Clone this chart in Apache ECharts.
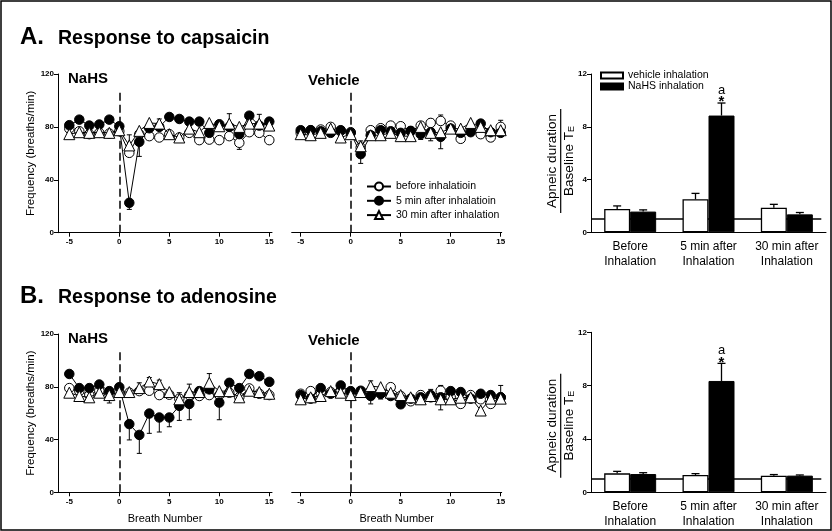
<!DOCTYPE html>
<html>
<head>
    <meta charset="utf-8">
    <title>Response to capsaicin / adenosine</title>
    <script src="https://cdn.jsdelivr.net/npm/echarts@6/dist/echarts.min.js"></script>
    <style>
        html, body { margin: 0; padding: 0; background: #fff; }
        #chart { width: 832px; height: 531px; }
    </style>
</head>
<body>
<div id="chart"></div>
<script type="text/javascript">
    // breath numbers (x values of every line plot)
    var breaths = [-5, -4, -3, -2, -1, 0, 1, 2, 3, 4, 5, 6, 7, 8, 9, 10, 11, 12, 13, 14, 15];
    var breathTicks = [-5, 0, 5, 10, 15];
    var lineNames = ['before inhalatioin', '5 min after inhalatioin', '30 min after inhalation'];

    // A. capsaicin, NaHS
    var aNaBefore = [78.7, 76.7, 74.5, 75.5, 75, 76.7, 60.4, 74.5, 73, 72, 74.5, 72, 75.5, 70, 70.4, 70, 73, 68, 76, 75.5, 70];
    var aNaBeforeErr = [0, 0, 0, 0, 0, 0, 0, 0, 0, 0, 0, 0, 0, 0, 0, 0, 0, -5, 0, 0, 0];
    var aNaFive = [81.3, 85.5, 81, 81.8, 85.5, 80.5, 22.6, 68.7, 79, 80, 87.5, 86, 84, 84, 75.5, 82, 80, 74.5, 88.5, 81, 84];
    var aNaFiveErr = [0, 0, 0, 0, 0, 0, -5, -11, 0, 0, 0, 0, 0, 0, 0, 0, 0, 0, 0, 0, 0];
    var aNaThirty = [74.5, 76, 75.5, 76, 75.5, 77.5, 66, 77, 83, 82.5, 74.5, 72, 78.7, 76, 83, 80.5, 82.5, 80, 82.5, 82.5, 81];
    var aNaThirtyErr = [0, 0, 0, 0, 0, 0, 8, 0, 0, 3.5, 0, 0, 0, 0, 0, 0, 7.5, 0, 0, 7, 0];

    // A. capsaicin, vehicle
    var aVeBefore = [75.5, 77.5, 78, 80, 77, 76, 64.4, 77.5, 79, 81, 80.5, 76.7, 81, 83, 84.5, 81, 71, 77.5, 74.5, 72, 80];
    var aVeBeforeErr = [0, 0, 0, 0, 0, 0, 0, 0, 0, 0, 0, 0, 3, 3, 4.5, 2, 0, 0, 0, -3, 5];
    var aVeFive = [77.5, 77.5, 76.7, 75.5, 77.5, 75.5, 59.4, 73.7, 77.5, 76.7, 75.5, 77, 74.5, 76, 72.5, 78.7, 75.5, 76, 82.5, 76, 75.5];
    var aVeFiveErr = [0, 0, 0, 0, 0, 0, -7, 0, 0, 0, 0, 0, -4, 0, -9, 0, 0, 0, 0, 0, 0];
    var aVeThirty = [74.5, 73.7, 75.5, 78.7, 72, 74.5, 65.4, 73.7, 73.7, 75.5, 73, 73, 80, 75.5, 76, 78.7, 78.7, 83, 80, 77.5, 77.5];
    var aVeThirtyErr = [0, 0, 0, 0, 0, 0, 4, 0, 0, 0, 0, 0, 0, -6, 0, 0, 0, 0, 0, 0, 0];

    // B. adenosine, NaHS
    var bNaBefore = [79, 76.7, 73.7, 77, 74.7, 75.5, 75.5, 76.7, 77, 73.7, 74, 71, 73.7, 73, 73.7, 73.7, 75.5, 72, 78.7, 74.7, 73.7];
    var bNaBeforeErr = [0, 0, 0, 0, -7, 0, 0, 0, 0, 0, 0, 0, 0, 0, 0, 0, 0, 0, 0, 0, 0];
    var bNaFive = [89.7, 79, 79, 81.7, 76.7, 79.7, 51.7, 43.5, 59.7, 56.7, 56.7, 65.5, 67, 76.7, 78, 68, 83, 79, 89.7, 88, 83.7];
    var bNaFiveErr = [0, 0, 0, 0, 0, 0, -12, -14, -15, -11, -7, -11, -12, 0, 0, -13, 0, 0, 0, 0, 0];
    var bNaThirty = [75.5, 73, 72, 75.5, 73.7, 76, 76, 79, 84, 82, 76, 70.5, 76, 76, 83, 76.7, 76.7, 72, 77, 76, 74.7];
    var bNaThirtyErr = [0, 0, 0, 0, 0, 0, 0, 4, 3, 3, 0, 5, 6, 0, 7, 0, 0, 0, 0, 0, 0];

    // B. adenosine, vehicle
    var bVeBefore = [74.7, 76.7, 75.5, 76, 77, 74.7, 75.5, 73.7, 74.7, 79.7, 73, 69, 73.7, 72, 77, 72, 67, 73.7, 70.5, 67, 72];
    var bVeBeforeErr = [0, 0, 0, 0, 0, 0, 0, 0, 0, 0, 0, 0, 3, 0, 4, 0, 0, 0, 0, 0, 0];
    var bVeFive = [73.7, 71, 79, 74.7, 81, 76.7, 77, 73, 74.7, 73, 66.7, 71, 72, 73.7, 72, 76.7, 76, 71, 74.7, 73.7, 72];
    var bVeFiveErr = [0, 0, 0, 0, 0, 0, 0, -6, -4, 0, 0, 0, 0, 0, 0, 0, 0, 0, 0, 0, 0];
    var bVeThirty = [70.5, 72, 73, 76.7, 75.5, 73.7, 76, 80.5, 79.7, 75.5, 73.7, 72, 70.5, 73, 70.5, 70.5, 71.7, 72, 62, 71, 71];
    var bVeThirtyErr = [0, 0, 0, 0, 4, 0, 0, 4, 0, 0, 0, 0, 6, 5, -8, 0, 0, 3, 0, 0, 10];

    // bar charts: apneic duration / baseline TE
    var barCats = ['Before\nInhalation', '5 min after\nInhalation', '30 min after\nInhalation'];
    var barNames = ['vehicle inhalation', 'NaHS inhalation'];
    var aVehBars = [1.77, 2.5, 1.87];
    var aVehErr = [0.23, 0.45, 0.25];
    var aNaBars = [1.57, 8.85, 1.36];
    var aNaErr = [0.13, 0.95, 0.14];
    var bVehBars = [1.42, 1.3, 1.25];
    var bVehErr = [0.15, 0.1, 0.08];
    var bNaBars = [1.37, 8.35, 1.25];
    var bNaErr = [0.1, 1.32, 0.05];
    var sigMarks = ['', 'a', ''];
    var baselineRatio = 1;

    var FONT = 'Liberation Sans, Arial, sans-serif';
    var myChart = echarts.init(document.getElementById('chart'));

    var grids = [
        {left: 58, top: 74, width: 214, height: 158.7},      // A NaHS
        {left: 291.7, top: 74, width: 210, height: 158.7},   // A vehicle
        {left: 591, top: 74, width: 235, height: 158.3},     // A bars
        {left: 58, top: 334, width: 214, height: 158.3},     // B NaHS
        {left: 291.7, top: 334, width: 210, height: 158.3},  // B vehicle
        {left: 591, top: 332.3, width: 235, height: 160}     // B bars
    ];

    var axisLine = {onZero: false, lineStyle: {color: '#000', width: 1}};
    var tickLbl = {color: '#000', fontSize: 8, fontWeight: 'bold', fontFamily: FONT};

    function breathAxis(g, min, max, named) {
        return {
            type: 'value', gridIndex: g, min: min, max: max,
            splitLine: {show: false},
            axisLine: axisLine,
            axisTick: {length: 4, lineStyle: {color: '#000'}, customValues: breathTicks},
            axisLabel: Object.assign({margin: 5, customValues: breathTicks}, tickLbl),
            name: named ? 'Breath Number' : '', nameLocation: 'middle', nameGap: 21,
            nameTextStyle: {color: '#000', fontSize: 11, fontFamily: FONT}
        };
    }

    function catAxis(g) {
        return {
            type: 'category', gridIndex: g, data: barCats, axisLine: axisLine, axisTick: {show: false},
            axisLabel: {color: '#000', fontSize: 12, lineHeight: 15, fontFamily: FONT, margin: 7, interval: 0, hideOverlap: false}
        };
    }

    var xAxes = [
        breathAxis(0, -6.13, 15.27, false),
        breathAxis(1, -5.9, 15.1, false),
        catAxis(2),
        breathAxis(3, -6.13, 15.27, true),
        breathAxis(4, -5.9, 15.1, true),
        catAxis(5),
        // hidden axes for the baseline (ratio = 1) line
        {type: 'value', gridIndex: 2, min: 0, max: 1, show: false},
        {type: 'value', gridIndex: 5, min: 0, max: 1, show: false}
    ];

    function freqAxis(g, visible) {
        return {
            type: 'value', gridIndex: g, min: 0, max: 120, interval: 40, show: visible,
            splitLine: {show: false},
            axisLine: {show: true, onZero: false, lineStyle: {color: '#000'}},
            axisTick: {show: true, length: 4, lineStyle: {color: '#000'}},
            axisLabel: Object.assign({margin: 4}, tickLbl),
            name: 'Frequency (breaths/min)', nameLocation: 'middle', nameGap: 15,
            nameTextStyle: {color: '#000', fontSize: 11.5, fontFamily: FONT}
        };
    }

    function ratioAxis(g) {
        return {
            type: 'value', gridIndex: g, min: 0, max: 12, interval: 4,
            splitLine: {show: false},
            axisLine: {show: true, onZero: false, lineStyle: {color: '#000'}},
            axisTick: {show: true, length: 4, lineStyle: {color: '#000'}},
            axisLabel: Object.assign({margin: 4}, tickLbl)
        };
    }

    var yAxes = [freqAxis(0, true), freqAxis(1, false), ratioAxis(2), freqAxis(3, true), freqAxis(4, false), ratioAxis(5)];

    // error bar drawn from the point to point + err
    function errRender(params, api) {
        var x = api.value(0), y = api.value(1), e = api.value(2);
        var p0 = api.coord([x, y]);
        var p1 = api.coord([x, y + e]);
        return {
            type: 'group', children: [
                {type: 'line', shape: {x1: p0[0], y1: p0[1], x2: p1[0], y2: p1[1]}, style: {stroke: '#000', lineWidth: 1}},
                {type: 'line', shape: {x1: p1[0] - 2.5, y1: p1[1], x2: p1[0] + 2.5, y2: p1[1]}, style: {stroke: '#000', lineWidth: 1}}
            ]
        };
    }

    var markerStyles = [
        {symbol: 'circle', size: 9.5, fill: '#fff'},
        {symbol: 'circle', size: 9.5, fill: '#000'},
        {symbol: 'triangle', size: 11, fill: '#fff'}
    ];

    var linePanels = [
        {g: 0, vals: [aNaBefore, aNaFive, aNaThirty], errs: [aNaBeforeErr, aNaFiveErr, aNaThirtyErr]},
        {g: 1, vals: [aVeBefore, aVeFive, aVeThirty], errs: [aVeBeforeErr, aVeFiveErr, aVeThirtyErr]},
        {g: 3, vals: [bNaBefore, bNaFive, bNaThirty], errs: [bNaBeforeErr, bNaFiveErr, bNaThirtyErr]},
        {g: 4, vals: [bVeBefore, bVeFive, bVeThirty], errs: [bVeBeforeErr, bVeFiveErr, bVeThirtyErr]}
    ];

    var series = [];
    linePanels.forEach(function (p) {
        p.vals.forEach(function (vals, k) {
            var st = markerStyles[k];
            var s = {
                type: 'line', name: lineNames[k], xAxisIndex: p.g, yAxisIndex: p.g,
                data: breaths.map(function (b, i) { return [b, vals[i]]; }),
                symbol: st.symbol, symbolSize: st.size,
                itemStyle: {color: st.fill, borderColor: '#000', borderWidth: 1},
                lineStyle: {color: '#000', width: 1},
                z: 3 + k
            };
            if (k === 0) {
                // dashed line marking breath 0
                s.markLine = {
                    silent: true, symbol: 'none', label: {show: false},
                    lineStyle: {color: '#000', type: [8, 4], width: 1.5},
                    data: [[{coord: [0, 0]}, {coord: [0, 107]}]]
                };
            }
            series.push(s);
            var errData = [];
            p.errs[k].forEach(function (e, i) {
                if (e !== 0) errData.push([breaths[i], vals[i], e]);
            });
            series.push({
                type: 'custom', xAxisIndex: p.g, yAxisIndex: p.g, renderItem: errRender,
                data: errData, z: 2, silent: true
            });
        });
    });

    // bar panels
    function barErrRender(offset, marks) {
        return function (params, api) {
            var c = api.value(0), y = api.value(1), e = api.value(2);
            var p0 = api.coord([c, y]);
            var p1 = api.coord([c, y + e]);
            var x = p0[0] + offset;
            var kids = [
                {type: 'line', shape: {x1: x, y1: p0[1], x2: x, y2: p1[1]}, style: {stroke: '#000', lineWidth: 1.3}},
                {type: 'line', shape: {x1: x - 4, y1: p1[1], x2: x + 4, y2: p1[1]}, style: {stroke: '#000', lineWidth: 1.3}}
            ];
            if (marks && marks[c]) {
                kids.push({type: 'text', x: x, y: p1[1] - 13, style: {text: marks[c], fill: '#000', fontSize: 13, fontFamily: FONT, align: 'center', verticalAlign: 'middle'}});
                kids.push({type: 'text', x: x, y: p1[1] - 1, style: {text: '*', fill: '#000', fontSize: 15, fontWeight: 'bold', fontFamily: FONT, align: 'center', verticalAlign: 'middle'}});
            }
            return {type: 'group', children: kids};
        };
    }

    [{g: 2, hx: 6, veh: aVehBars, vehE: aVehErr, na: aNaBars, naE: aNaErr},
     {g: 5, hx: 7, veh: bVehBars, vehE: bVehErr, na: bNaBars, naE: bNaErr}].forEach(function (p) {
        series.push({
            type: 'line', xAxisIndex: p.hx, yAxisIndex: p.g, data: [[0, baselineRatio], [0.98, baselineRatio]],
            symbol: 'none', lineStyle: {color: '#000', width: 1.5}, z: 1, silent: true
        });
        series.push({
            type: 'bar', name: barNames[0], xAxisIndex: p.g, yAxisIndex: p.g, data: p.veh,
            barWidth: 26, barGap: '0%',
            itemStyle: {color: '#fff', borderColor: '#000', borderWidth: 1.3}, z: 3
        });
        series.push({
            type: 'bar', name: barNames[1], xAxisIndex: p.g, yAxisIndex: p.g, data: p.na,
            barWidth: 26, barGap: '0%',
            itemStyle: {color: '#000', borderColor: '#000', borderWidth: 1}, z: 3
        });
        series.push({
            type: 'custom', xAxisIndex: p.g, yAxisIndex: p.g, renderItem: barErrRender(-13, null),
            data: p.veh.map(function (v, i) { return [i, v, p.vehE[i]]; }), z: 4, silent: true
        });
        series.push({
            type: 'custom', xAxisIndex: p.g, yAxisIndex: p.g, renderItem: barErrRender(13, sigMarks),
            data: p.na.map(function (v, i) { return [i, v, p.naE[i]]; }), z: 4, silent: true
        });
    });

    function ratioTitle(cx, cy) {
        return {
            type: 'group', x: cx, y: cy, rotation: Math.PI / 2,
            children: [
                {type: 'text', x: 0, y: -1, style: {text: 'Apneic duration', fill: '#000', fontSize: 13.5, fontFamily: FONT, align: 'center', verticalAlign: 'bottom'}},
                {type: 'line', shape: {x1: -52, y1: 0, x2: 52, y2: 0}, style: {stroke: '#000', lineWidth: 1.2}},
                {type: 'text', x: 0, y: 2, style: {
                    text: '{n|Baseline T}{s|E}', align: 'center', verticalAlign: 'top',
                    rich: {n: {fill: '#000', fontSize: 13.5, fontFamily: FONT}, s: {fill: '#000', fontSize: 9, fontFamily: FONT, padding: [3, 0, 0, 0]}}
                }}
            ]
        };
    }

    function label(x, y, text, size) {
        return {type: 'text', x: x, y: y, style: {text: text, fill: '#000', fontSize: size, fontWeight: 'bold', fontFamily: FONT, verticalAlign: 'middle'}};
    }

    myChart.setOption({
        animation: false,
        backgroundColor: '#fff',
        grid: grids,
        xAxis: xAxes,
        yAxis: yAxes,
        legend: [
            {
                data: lineNames, orient: 'vertical', left: 366, top: 181, padding: 0,
                itemWidth: 24, itemHeight: 10, itemGap: 3.3, selectedMode: false,
                textStyle: {color: '#000', fontSize: 10.5, fontFamily: FONT, lineHeight: 11}
            },
            {
                data: barNames, orient: 'vertical', left: 600, top: 70, padding: 0,
                itemWidth: 22, itemHeight: 6, itemGap: 0, icon: 'rect', selectedMode: false,
                textStyle: {color: '#000', fontSize: 10.5, fontFamily: FONT, lineHeight: 11}
            }
        ],
        graphic: [
            {type: 'rect', shape: {x: 1, y: 1, width: 830, height: 529}, style: {fill: null, stroke: '#000', lineWidth: 1.5}},
            label(20, 37, 'A.', 24),
            label(58, 39, 'Response to capsaicin', 19.5),
            label(20, 296, 'B.', 24),
            label(58, 298, 'Response to adenosine', 19.5),
            label(68, 79, 'NaHS', 15),
            label(308, 81, 'Vehicle', 15),
            label(68, 339, 'NaHS', 15),
            label(308, 341, 'Vehicle', 15),
            ratioTitle(560.7, 161),
            ratioTitle(560.7, 425.7)
        ],
        series: series
    });
</script>
</body>
</html>
